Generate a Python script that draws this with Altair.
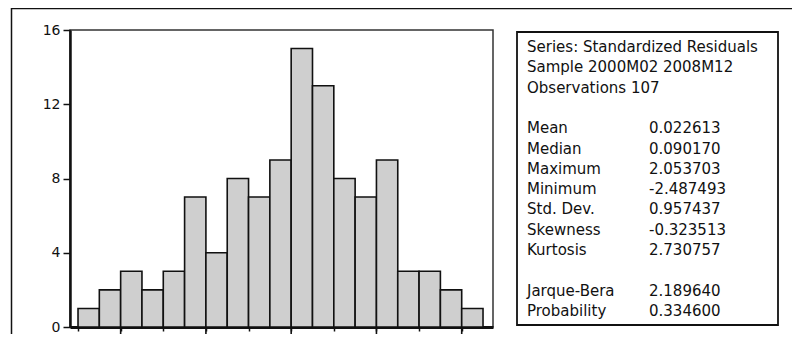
import altair as alt
import pandas as pd
import numpy as np

# Histogram data (bin width 0.25, from -2.5 to 2.25)
counts = [1, 2, 3, 2, 3, 7, 4, 8, 7, 9, 15, 13, 8, 7, 9, 3, 3, 2, 1]
bin_width = 0.25
bin_start = -2.5
y_ticks = [0, 4, 8, 12, 16]
major_x_ticks = [-2, -1, 0, 1, 2]

stat_labels = ["Series: Standardized Residuals", "Sample 2000M02 2008M12", "Observations 107",
               "Mean", "Median", "Maximum", "Minimum", "Std. Dev.", "Skewness", "Kurtosis",
               "Jarque-Bera", "Probability"]
stat_values = ["", "", "", "0.022613", "0.090170", "2.053703", "-2.487493", "0.957437",
               "-0.323513", "2.730757", "2.189640", "0.334600"]
stat_rows = [0, 1, 2, 4, 5, 6, 7, 8, 9, 10, 12, 13]

lo = [bin_start + i * bin_width for i in range(len(counts))]
hi = [v + bin_width for v in lo]
hist = pd.DataFrame({"lo": lo, "hi": hi, "count": counts})
minor_ticks = lo + [hi[-1]]

W, H = 423, 297
FONT = "DejaVu Sans"
xscale = alt.Scale(domain=[-2.594, 2.367], nice=False, zero=False)
yscale = alt.Scale(domain=[0, 16], nice=False)

bars = alt.Chart(hist).mark_rect(fill="#cfcfcf", stroke="#111111", strokeWidth=1.6).encode(
    x=alt.X("lo:Q", scale=xscale,
            axis=alt.Axis(values=minor_ticks, labels=False, title=None, tickSize=4,
                          tickColor="#111111", tickWidth=1.5, domainColor="#111111",
                          domainWidth=3, grid=False)),
    x2="hi:Q",
    y=alt.Y("count:Q", scale=yscale,
            axis=alt.Axis(values=y_ticks, title=None, tickSize=7, tickColor="#111111",
                          tickWidth=1.5, domainColor="#111111", domainWidth=2.5,
                          labelFont=FONT, labelFontSize=14, labelColor="#111111",
                          labelPadding=3, grid=False)),
    y2=alt.datum(0),
)

major = alt.Chart(pd.DataFrame({"t": major_x_ticks})).mark_rule(
    color="#111111", strokeWidth=1.6).encode(
    x=alt.X("t:Q", scale=xscale),
    y=alt.value(H), y2=alt.value(H + 10),
)

frame_top = alt.Chart(pd.DataFrame({"a": [0]})).mark_rule(color="#111111", strokeWidth=1.5).encode(
    x=alt.value(-59), x2=alt.value(740), y=alt.value(-21.5))
frame_left = alt.Chart(pd.DataFrame({"a": [0]})).mark_rule(color="#111111", strokeWidth=1.5).encode(
    x=alt.value(-58.5), y=alt.value(-22), y2=alt.value(320))

box = alt.Chart(pd.DataFrame({"a": [0]})).mark_rect(
    fill="white", stroke="#111111", strokeWidth=1.8).encode(
    x=alt.value(447), x2=alt.value(708), y=alt.value(2), y2=alt.value(295))

stats = pd.DataFrame({"label": stat_labels, "value": stat_values, "row": stat_rows})
row_scale = alt.Scale(domain=[0, 13], range=[17, 281])
txt_labels = alt.Chart(stats).mark_text(
    align="left", baseline="middle", font=FONT, fontSize=15, color="#111111").encode(
    x=alt.value(457), y=alt.Y("row:Q", scale=row_scale, axis=None), text="label:N")
txt_values = alt.Chart(stats).mark_text(
    align="left", baseline="middle", font=FONT, fontSize=15, color="#111111").encode(
    x=alt.value(579), y=alt.Y("row:Q", scale=row_scale, axis=None), text="value:N")

chart = alt.layer(frame_top, frame_left, bars, major, box, txt_labels, txt_values).resolve_scale(
    y="independent"
).properties(
    width=W, height=H,
    autosize=alt.AutoSizeParams(type="none"),
    padding={"left": 62, "top": 22, "right": 299, "bottom": 7},
    background="white",
).configure_view(stroke="#333333", strokeWidth=1.5)

chart.save("out.html", embed_options={"renderer": "svg", "actions": False})
